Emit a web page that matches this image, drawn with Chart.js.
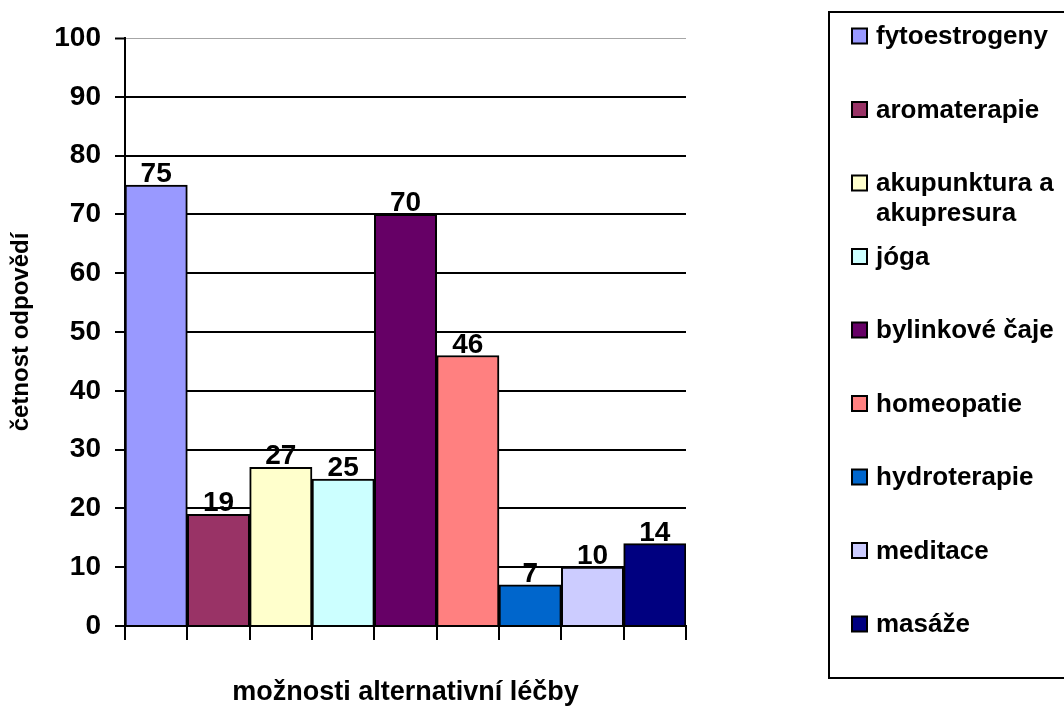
<!DOCTYPE html>
<html lang="cs">
<head>
<meta charset="utf-8">
<title>Možnosti alternativní léčby</title>
<script src="https://cdn.jsdelivr.net/npm/chart.js@4.4.1/dist/chart.umd.min.js"></script>
<style>
  html, body { margin: 0; padding: 0; background: #ffffff; }
  canvas { display: block; }
</style>
</head>
<body>
<canvas id="chart" width="1064" height="706"></canvas>
<script>
// Treatment options and how many respondents named each one
const categories = [
  'fytoestrogeny',
  'aromaterapie',
  'akupunktura a akupresura',
  'jóga',
  'bylinkové čaje',
  'homeopatie',
  'hydroterapie',
  'meditace',
  'masáže'
];
const counts = [75, 19, 27, 25, 70, 46, 7, 10, 14];
const barColors = [
  '#9999FF', '#993366', '#FFFFCC', '#CCFFFF', '#660066',
  '#FF8080', '#0066CC', '#CCCCFF', '#000080'
];
const yMin = 0;
const yMax = 100;
const yStep = 10;

const FONT = '"Liberation Sans", Arial, Helvetica, sans-serif';
Chart.defaults.font.family = FONT;
Chart.defaults.color = '#000';

// Value printed above every bar
const valueLabels = {
  id: 'valueLabels',
  afterDatasetsDraw(chart) {
    const ctx = chart.ctx;
    const meta = chart.getDatasetMeta(0);
    const values = chart.data.datasets[0].data;
    ctx.save();
    ctx.font = 'bold 28px ' + FONT;
    ctx.fillStyle = '#000';
    ctx.textAlign = 'center';
    ctx.textBaseline = 'alphabetic';
    meta.data.forEach((bar, i) => {
      ctx.fillText(String(values[i]), bar.x, bar.y - 3);
    });
    ctx.restore();
  }
};

// Framed legend on the right, one entry per category
const sideLegend = {
  id: 'sideLegend',
  afterDraw(chart) {
    const ctx = chart.ctx;
    const labels = chart.data.labels;
    const colors = chart.data.datasets[0].backgroundColor;
    const boxLeft = 829, boxTop = 12, boxHeight = 666;
    const firstRow = 36, rowStep = 73.5, lineStep = 30;
    const swX = 852, sw = 15, textX = 876;
    const wrapWidth = 200;

    ctx.save();
    ctx.lineWidth = 2;
    ctx.strokeStyle = '#000';
    ctx.strokeRect(boxLeft, boxTop, 300, boxHeight);

    ctx.font = 'bold 26px ' + FONT;
    ctx.textAlign = 'left';
    ctx.textBaseline = 'middle';
    labels.forEach((label, i) => {
      const cy = firstRow + i * rowStep;
      ctx.fillStyle = colors[i];
      ctx.fillRect(swX, cy - sw / 2, sw, sw);
      ctx.lineWidth = 2;
      ctx.strokeStyle = '#000';
      ctx.strokeRect(swX, cy - sw / 2, sw, sw);

      // simple word wrap for long names
      const words = label.split(' ');
      const lines = [];
      let line = '';
      words.forEach(w => {
        const test = line ? line + ' ' + w : w;
        if (line && ctx.measureText(test).width > wrapWidth) {
          lines.push(line);
          line = w;
        } else {
          line = test;
        }
      });
      lines.push(line);
      ctx.fillStyle = '#000';
      lines.forEach((t, k) => ctx.fillText(t, textX, cy + 1 + k * lineStep));
    });
    ctx.restore();
  }
};

new Chart(document.getElementById('chart'), {
  type: 'bar',
  data: {
    labels: categories,
    datasets: [{
      data: counts,
      backgroundColor: barColors,
      borderColor: '#000',
      borderWidth: 2,
      barPercentage: 1,
      categoryPercentage: 1
    }]
  },
  options: {
    responsive: false,
    animation: false,
    devicePixelRatio: 1,
    layout: { padding: { top: 38, right: 378, left: 0, bottom: 0 } },
    plugins: {
      legend: { display: false },
      tooltip: { enabled: false }
    },
    scales: {
      x: {
        offset: true,
        grid: {
          display: true,
          drawOnChartArea: false,
          drawTicks: true,
          tickLength: 14,
          color: '#000',
          lineWidth: 2
        },
        border: { display: true, color: '#000', width: 2 },
        ticks: { display: true, callback: () => '' },
        title: {
          display: true,
          text: 'možnosti alternativní léčby',
          font: { size: 27, weight: 'bold', lineHeight: 1 },
          color: '#000',
          padding: { top: 0, bottom: 0 }
        },
        afterFit(scale) { scale.height = 80; }
      },
      y: {
        min: yMin,
        max: yMax,
        ticks: {
          stepSize: yStep,
          padding: 14,
          color: '#000',
          font: { size: 28, weight: 'bold' }
        },
        grid: {
          drawTicks: true,
          tickLength: 10,
          color: c => (c.tick && c.tick.value === yMax ? '#a6a6a6' : '#000'),
          lineWidth: c => (c.tick && c.tick.value === yMax ? 1 : 2),
          tickColor: '#000',
          tickWidth: 2
        },
        border: { display: true, color: '#000', width: 2 },
        title: {
          display: true,
          text: 'četnost odpovědí',
          font: { size: 24, weight: 'bold', lineHeight: 1 },
          color: '#000',
          padding: { top: 9, bottom: 0 }
        },
        afterFit(scale) { scale.width = 125; }
      }
    }
  },
  plugins: [valueLabels, sideLegend]
});
</script>
</body>
</html>
